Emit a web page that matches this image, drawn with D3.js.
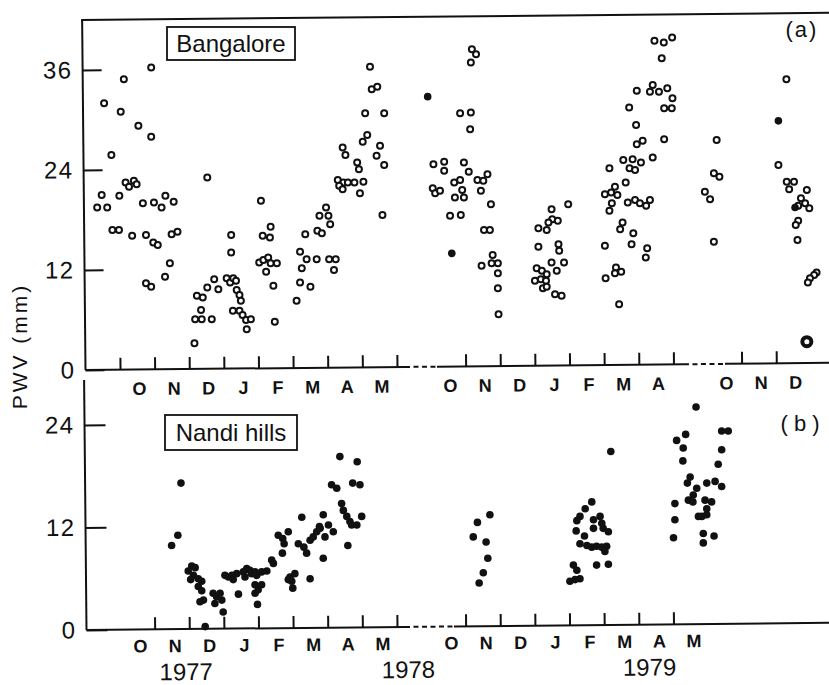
<!DOCTYPE html>
<html>
<head>
<meta charset="utf-8">
<title>PWV Bangalore / Nandi hills</title>
<script src="https://cdn.jsdelivr.net/npm/d3@7"></script>
<style>
  body { margin: 0; background: #fff; }
  text { font-family: "Liberation Sans", Arial, sans-serif; fill: #111; }
  .tick line { stroke: #111; stroke-width: 2; }
</style>
</head>
<body>
<div id="chart"></div>
<script>
// x values are month index: 0 = 1 Sep 1977, 12 = 1 Sep 1978, 24 = 1 Sep 1979
// y values are PWV in mm

// (a) Bangalore, open circles
var bangaloreOpen = [
  [1.90,36.3],[1.11,34.9],[0.54,32.0],[1.02,31.0],[1.53,29.3],[1.90,28.0],[0.75,25.8],
  [1.16,22.5],[1.26,22.0],[1.40,22.7],[1.48,22.3],[0.47,21.0],[0.98,20.9],[0.34,19.5],[0.63,19.5],
  [1.66,20.0],[1.98,20.1],[2.20,19.5],[2.31,20.9],[2.55,20.2],
  [0.78,16.8],[0.97,16.8],[1.35,16.1],[1.75,16.2],[1.96,15.3],[2.09,15.0],[2.49,16.3],[2.66,16.6],
  [2.44,12.8],[2.30,11.2],[1.75,10.4],[1.90,10.0],
  [3.52,23.1],[3.15,3.2],[3.17,6.1],[3.36,6.1],[3.65,6.1],[3.34,7.2],[3.22,8.9],[3.39,8.7],[3.52,9.9],[3.72,10.9],[3.84,9.7],
  [4.08,11.0],[4.18,10.5],[4.27,11.0],[4.35,10.7],[4.37,9.6],[4.45,9.0],[4.49,8.3],[4.26,7.1],[4.45,7.1],
  [4.54,6.6],[4.64,6.0],[4.78,6.1],[4.66,4.9],[4.21,14.1],[4.21,16.2],
  [5.07,20.3],[5.35,17.2],[5.12,16.1],[5.33,15.9],[5.02,12.9],[5.14,13.2],[5.28,13.5],[5.35,12.8],[5.53,12.8],
  [5.22,11.8],[5.43,10.1],[5.47,5.8],
  [6.35,16.3],[6.20,14.2],[6.39,13.3],[6.68,13.3],[6.25,12.2],[6.20,10.5],[6.50,10.0],[6.10,8.3],
  [6.95,19.5],[6.76,18.5],[7.02,18.5],[7.07,17.5],[6.70,16.7],[6.83,16.4],[7.04,13.3],[7.23,13.3],[7.18,12.0],
  [7.43,26.7],[7.51,25.8],[7.29,22.8],[7.45,22.5],[7.33,22.1],[7.43,21.7],[7.58,22.5],[7.77,22.5],[8.03,22.6],
  [7.93,21.2],[7.85,24.9],[7.90,24.1],
  [8.22,36.4],[8.27,33.7],[8.43,34.0],[8.08,30.8],[8.63,30.8],[8.01,27.4],[8.14,28.2],[8.51,26.9],[8.41,25.7],
  [8.63,24.6],[8.58,18.6],
  [14.18,38.5],[14.30,37.9],[14.15,36.9],[13.84,30.8],[14.15,30.9],[14.13,28.9],
  [13.07,24.7],[13.38,25.0],[13.38,23.9],[13.95,24.9],[14.09,23.8],[13.05,21.8],[13.12,21.2],[13.26,21.5],
  [13.67,22.5],[13.84,22.8],[13.90,21.6],[13.69,20.7],[13.95,20.7],[14.34,22.8],[14.51,22.7],[14.63,23.5],[14.44,21.5],
  [14.73,19.9],[13.55,18.5],[13.86,18.6],[14.53,16.8],[14.70,16.8],
  [14.46,12.5],[14.78,13.8],[14.75,12.8],[14.93,12.8],[14.93,11.6],[14.93,9.8],[14.95,6.7],
  [16.10,17.0],[16.34,16.8],[16.48,19.3],[16.50,18.1],[16.66,17.9],[16.39,17.7],[16.96,19.9],[16.10,14.8],
  [16.68,15.1],[16.70,14.3],
  [16.48,12.9],[16.63,11.9],[16.84,12.9],[16.05,12.2],[16.20,11.9],[16.34,11.5],[16.00,10.7],[16.17,10.9],
  [16.32,10.7],[16.23,9.8],[16.34,10.0],[16.58,9.1],[16.77,8.9],
  [19.45,39.5],[19.72,39.3],[19.96,39.9],[19.66,37.4],[18.94,33.5],[19.40,34.2],[19.32,33.4],[19.58,33.4],
  [19.82,33.8],[19.97,32.6],[19.73,31.4],[19.95,31.4],
  [18.72,31.5],[18.92,29.4],[18.94,27.1],[19.11,27.5],[19.73,27.7],[18.55,25.2],[18.82,25.3],[18.73,24.2],
  [18.89,24.0],[19.06,24.9],[19.40,25.5],[18.15,24.2],
  [18.62,22.5],[18.31,22.0],[18.02,21.1],[18.20,21.3],[18.38,21.0],[18.22,20.0],[18.15,19.1],[18.68,20.1],
  [18.89,20.4],[19.03,20.0],[19.21,19.7],[19.32,20.4],
  [18.53,17.7],[18.46,16.9],[18.84,16.4],[18.79,15.1],[18.02,14.9],[19.24,14.6],[19.20,13.5],[18.34,12.3],
  [18.31,11.6],[18.49,11.8],[18.04,11.0],[18.43,7.9],
  [24.94,21.4],[25.09,20.5],[25.28,27.6],[25.20,23.6],[25.36,23.2],[25.20,15.4],
  [27.29,34.9],[27.06,24.6],[27.30,22.6],[27.51,22.6],[27.37,21.7],[27.88,21.6],[27.71,20.6],[27.83,20.0],
  [27.95,19.4],[27.63,19.7],[27.63,17.9],[27.56,17.4],[27.61,15.6],[28.16,11.7],[28.09,11.4],[27.97,11.0],[27.91,10.5]
];
// (a) Bangalore, the few points printed solid
var bangaloreFilled = [[12.61,32.8],[13.60,14.0],[27.06,29.9],[27.54,19.5]];
var bangaloreBold = [[27.88,3.4]];

// (b) Nandi hills
var nandi = [
  [2.76,17.2],[2.67,11.1],[2.49,9.9],
  [3.07,7.5],[3.17,7.3],[2.97,6.9],[3.12,6.4],[3.26,6.0],[3.04,5.9],[3.36,5.7],[3.26,5.1],[3.36,4.6],
  [3.41,3.5],[3.31,3.3],[3.46,0.4],
  [3.69,4.3],[3.79,3.9],[3.89,4.3],[3.74,3.1],[3.94,3.5],[3.98,2.1],
  [4.03,6.4],[4.13,6.2],[4.23,6.4],[4.27,5.9],[4.37,6.6],[4.42,4.2],[4.56,6.8],[4.66,7.2],[4.75,7.0],
  [4.61,6.2],[4.80,6.6],[4.90,6.8],[4.95,6.4],[5.09,6.8],[5.24,6.9],[4.90,5.3],[4.99,4.7],[4.90,4.3],
  [5.09,5.3],[4.97,3.0],
  [5.38,8.2],[5.43,7.8],[5.57,11.1],[5.70,10.7],[5.74,10.1],[5.86,11.5],[5.69,9.0],[5.91,6.2],[6.05,6.6],
  [5.96,5.7],[5.86,5.9],[5.99,4.9],
  [6.49,6.0],[6.25,13.2],[6.15,10.1],[6.31,9.7],[6.39,9.0],[6.49,10.5],[6.58,10.9],[6.68,11.5],[6.78,11.9],
  [6.87,13.5],[6.76,12.1],[6.92,10.9],[7.02,12.3],[6.87,8.4],[7.16,11.5],
  [7.11,17.0],[7.26,16.6],[7.40,14.8],[7.45,14.0],[7.55,13.3],[7.64,12.7],[7.69,12.3],[7.84,12.3],[7.98,13.3],
  [7.35,20.3],[7.85,19.7],[7.72,17.2],[7.93,17.0],[7.58,9.9],
  [14.70,13.5],[14.34,12.6],[14.22,10.9],[14.59,10.3],[14.64,8.4],[14.51,6.7],[14.39,5.5],
  [17.64,15.0],[17.45,14.2],[17.30,13.3],[17.21,12.8],[17.19,11.6],[17.43,11.0],[17.30,10.1],[17.50,9.9],
  [17.64,9.7],[17.78,9.8],[17.93,9.7],[18.07,9.8],[18.02,9.2],
  [17.69,12.9],[17.88,13.3],[17.93,12.5],[17.97,11.9],[18.12,11.5],[17.69,11.9],[17.11,7.6],[17.21,7.0],
  [17.30,6.0],[17.16,5.9],[17.01,5.7],[17.78,7.6],[18.12,7.7],[18.19,20.9],
  [20.65,26.1],[20.09,22.2],[20.35,22.9],[20.28,21.3],[20.27,19.8],[20.04,14.8],[20.04,12.9],[20.00,10.8],
  [20.48,17.9],[20.40,17.2],[20.43,15.2],[20.67,16.6],[20.57,15.8],[20.56,15.0],[20.72,13.3],
  [21.39,23.3],[21.58,23.3],[21.39,21.1],[21.29,19.4],[20.96,17.2],[21.20,17.4],[21.39,16.8],[20.91,15.2],
  [21.10,15.0],[20.96,14.2],[20.82,13.3],[20.96,13.5],[20.86,11.3],[20.86,10.2],[21.17,11.0]
];

var bangaloreTicks = [0, 12, 24, 36];
var nandiTicks = [0, 12, 24];
var topMonthTicks = [1, 2, 3, 4, 5, 6, 7, 8, 9, 14, 15, 16, 17, 18, 19, 20, 26, 27];
var bottomMonthTicks = [2, 3, 4, 5, 6, 7, 8, 9, 14, 15, 16, 17, 18, 19, 20];
var topMonthLabels = [[1.5,"O"],[2.5,"N"],[3.5,"D"],[4.5,"J"],[5.5,"F"],[6.5,"M"],[7.5,"A"],[8.5,"M"],
  [13.5,"O"],[14.5,"N"],[15.5,"D"],[16.5,"J"],[17.5,"F"],[18.5,"M"],[19.5,"A"],
  [25.5,"O"],[26.5,"N"],[27.5,"D"]];
var bottomMonthLabels = [[1.5,"O"],[2.5,"N"],[3.5,"D"],[4.5,"J"],[5.5,"F"],[6.5,"M"],[7.5,"A"],[8.5,"M"],
  [13.5,"O"],[14.5,"N"],[15.5,"D"],[16.5,"J"],[17.5,"F"],[18.5,"M"],[19.5,"A"],[20.5,"M"]];
var yearLabels = [[2.9,"1977"],[10.3,"1978"],[19.3,"1979"]];

var svg = d3.select("#chart").append("svg").attr("width", 829).attr("height", 685);

// broken time axis: the summer months are squeezed into the dashed gaps
var xTop = d3.scaleLinear().domain([0, 9, 13, 20, 24.8, 29]).range([85.4, 397, 431, 673.5, 700, 845.7]);
var xBot = d3.scaleLinear().domain([0, 9, 13, 22]).range([85.4, 397, 431, 742.8]);
var yTop = d3.scaleLinear().domain([0, 36]).range([370, 70]);
var yBot = d3.scaleLinear().domain([0, 24]).range([630, 425]);

// the scanned figure sits a little tilted, so frames follow it
var tilt = -0.55;
var gTop = svg.append("g").attr("transform", "rotate(" + tilt + ",85.5,370)");
var gBot = svg.append("g").attr("transform", "rotate(" + tilt + ",86.5,630)");

function hline(g, x1, x2, y, dashed) {
  g.append("line").attr("x1", x1).attr("x2", x2).attr("y1", y).attr("y2", y)
    .attr("stroke", "#111").attr("stroke-width", 2)
    .attr("stroke-dasharray", dashed ? "5,3.5" : null);
}

// top panel frame
gTop.append("line").attr("x1", 85.5).attr("x2", 85.5).attr("y1", 20).attr("y2", 370)
  .attr("stroke", "#111").attr("stroke-width", 2);
hline(gTop, 84.5, 845, 20);
hline(gTop, 85.5, 405, 370);
hline(gTop, 405, 437, 370, true);
hline(gTop, 437, 684, 370);
hline(gTop, 684, 725, 370, true);
hline(gTop, 725, 845, 370);

// bottom panel frame
gBot.append("line").attr("x1", 86.5).attr("x2", 86.5).attr("y1", 380).attr("y2", 630)
  .attr("stroke", "#111").attr("stroke-width", 2);
hline(gBot, 86.5, 405, 630);
hline(gBot, 405, 454, 630, true);
hline(gBot, 454, 845, 630);

// y axes
gTop.append("g").attr("transform", "translate(85.5,0)")
  .call(d3.axisLeft(yTop).tickValues(bangaloreTicks).tickSize(-19).tickPadding(10))
  .call(function (g) { g.select(".domain").remove(); })
  .selectAll("text").style("font-size", "24px").style("letter-spacing", "1.5px");

gBot.append("g").attr("transform", "translate(86.5,0)")
  .call(d3.axisLeft(yBot).tickValues(nandiTicks).tickSize(-21).tickPadding(10))
  .call(function (g) { g.select(".domain").remove(); })
  .selectAll("text").style("font-size", "24px").style("letter-spacing", "1.5px");

// x axes, ticks point up into the panel
gTop.append("g").attr("transform", "translate(0,370)")
  .call(d3.axisBottom(xTop).tickValues(topMonthTicks).tickSize(-12).tickFormat(""))
  .call(function (g) { g.select(".domain").remove(); });

gBot.append("g").attr("transform", "translate(0,630)")
  .call(d3.axisBottom(xBot).tickValues(bottomMonthTicks).tickSize(-12).tickFormat(""))
  .call(function (g) { g.select(".domain").remove(); });

gTop.selectAll(".month").data(topMonthLabels).join("text")
  .attr("class", "month")
  .attr("x", function (d) { return xTop(d[0]) + 2; })
  .attr("y", 395.5)
  .attr("text-anchor", "middle")
  .style("font-size", "18px").style("font-weight", "bold")
  .text(function (d) { return d[1]; });

gBot.selectAll(".month").data(bottomMonthLabels).join("text")
  .attr("class", "month")
  .attr("x", function (d) { return xBot(d[0]) + 3; })
  .attr("y", 653)
  .attr("text-anchor", "middle")
  .style("font-size", "18px").style("font-weight", "bold")
  .text(function (d) { return d[1]; });

gBot.selectAll(".year").data(yearLabels).join("text")
  .attr("class", "year")
  .attr("x", function (d) { return xBot(d[0]); })
  .attr("y", 681)
  .attr("text-anchor", "middle")
  .style("font-size", "24px")
  .text(function (d) { return d[1]; });

// station boxes and panel letters
function stationBox(x, y, w, h, label, base) {
  svg.append("rect").attr("x", x).attr("y", y).attr("width", w).attr("height", h)
    .attr("fill", "#fff").attr("stroke", "#111").attr("stroke-width", 1.8);
  svg.append("text").attr("x", x + w / 2).attr("y", base).attr("text-anchor", "middle")
    .style("font-size", "24px").text(label);
}
stationBox(167, 27, 128, 33, "Bangalore", 52);
stationBox(165, 415, 132, 35, "Nandi hills", 441);

svg.append("text").attr("x", 802).attr("y", 37).attr("text-anchor", "middle")
  .style("font-size", "22px").style("letter-spacing", "2px").text("(a)");
svg.append("text").attr("x", 800).attr("y", 431).attr("text-anchor", "middle")
  .style("font-size", "22px").text("( b )");

svg.append("text").attr("transform", "translate(27,346) rotate(-90)")
  .attr("text-anchor", "middle")
  .style("font-size", "21px").style("letter-spacing", "3px")
  .text("PWV (mm)");

// data marks
var marks = svg.append("g");
marks.selectAll(".open").data(bangaloreOpen).join("circle")
  .attr("class", "open")
  .attr("cx", function (d) { return xTop(d[0]); })
  .attr("cy", function (d) { return yTop(d[1]); })
  .attr("r", 3.0)
  .attr("fill", "#fff").attr("stroke", "#111").attr("stroke-width", 2);

marks.selectAll(".solid").data(bangaloreFilled).join("circle")
  .attr("class", "solid")
  .attr("cx", function (d) { return xTop(d[0]); })
  .attr("cy", function (d) { return yTop(d[1]); })
  .attr("r", 3.8).attr("fill", "#111");

marks.selectAll(".bold").data(bangaloreBold).join("circle")
  .attr("class", "bold")
  .attr("cx", function (d) { return xTop(d[0]); })
  .attr("cy", function (d) { return yTop(d[1]); })
  .attr("r", 4.5)
  .attr("fill", "#fff").attr("stroke", "#111").attr("stroke-width", 4);

marks.selectAll(".nandi").data(nandi).join("circle")
  .attr("class", "nandi")
  .attr("cx", function (d) { return xBot(d[0]); })
  .attr("cy", function (d) { return yBot(d[1]); })
  .attr("r", 3.8).attr("fill", "#111");
</script>
</body>
</html>
